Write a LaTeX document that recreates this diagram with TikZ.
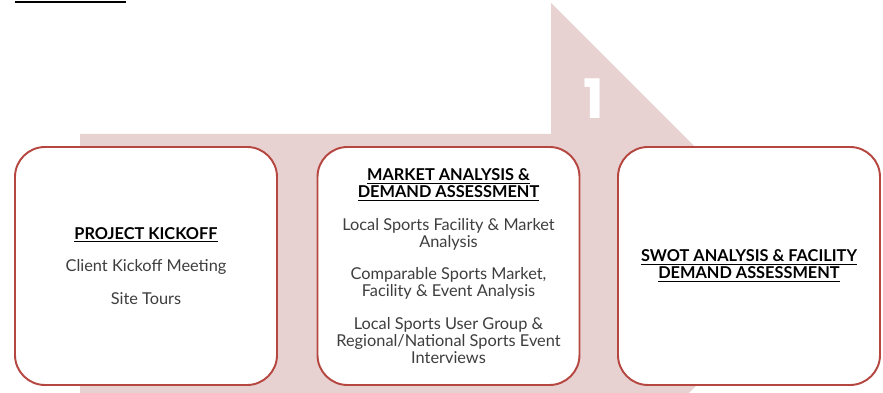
\documentclass[tikz,border=0pt]{standalone}
\usepackage{fontspec}
\setmainfont{Lato}
\newfontfamily\numfont{Poppins}

\definecolor{phasepink}{RGB}{232,209,209}
\definecolor{cardred}{RGB}{181,71,64}
\definecolor{bodygray}{RGB}{62,62,62}

\newcommand{\phasehead}[1]{{\bfseries\color{black}\underline{#1}}}

\begin{document}
\begin{tikzpicture}[
  card/.style={draw=cardred, line width=1.1pt, fill=white, rounded corners=0.6cm,
    minimum width=5.24cm, minimum height=4.76cm, inner sep=0pt, align=center,
    text=bodygray, font=\fontsize{9.3}{9.6}\selectfont}]
  \useasboundingbox (0,0) rectangle (17.66,7.86);
  \clip (0,0) rectangle (17.66,7.86);

  % phase arrow behind the cards
  \coordinate (R1) at (1.6,-0.2);
  \coordinate (R2) at (1.6,5.18);
  \coordinate (N1) at (11.02,5.18);
  \coordinate (N2) at (11.02,7.80);
  \coordinate (T)  at (16.3,2.52);
  \coordinate (N3) at (11.02,-2.76);
  \fill[phasepink] (R1) -- (R2) -- (N1) -- (N2) -- (T) -- (N3) -- cycle;

  \node[text=white, font=\numfont\bfseries\fontsize{31}{31}\selectfont] (num) at (11.87,5.88) {1};

  % cut off title rule
  \coordinate (L1) at (0.3,7.82);
  \coordinate (L2) at (2.52,7.82);
  \draw[line width=1.2pt] (L1) -- (L2);

  % the three cards
  \node[card] (kickoff) at (2.92,2.54) {\phasehead{PROJECT KICKOFF}\\[0.32cm]
    Client Kickoff Meeting\\[0.32cm]
    Site Tours};
  \node[card] (market) at (8.97,2.54) {\phasehead{MARKET ANALYSIS \&}\\
    \phasehead{DEMAND ASSESSMENT}\\[0.32cm]
    Local Sports Facility \& Market\\ Analysis\\[0.32cm]
    Comparable Sports Market,\\ Facility \& Event Analysis\\[0.32cm]
    Local Sports User Group \&\\ Regional/National Sports Event\\ Interviews};
  \node[card] (swot) at (14.98,2.54) {\phasehead{SWOT ANALYSIS \& FACILITY}\\
    \phasehead{DEMAND ASSESSMENT}};
\end{tikzpicture}
\end{document}
